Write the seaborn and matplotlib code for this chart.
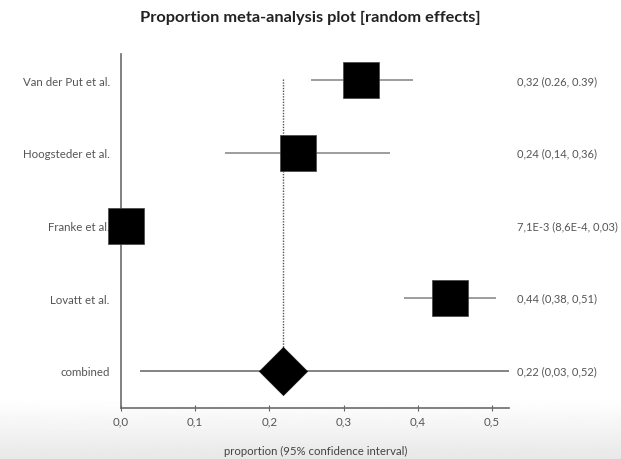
import matplotlib
matplotlib.use("Agg")
import matplotlib.pyplot as plt
import matplotlib.transforms as mtransforms
import numpy as np
import pandas as pd
import seaborn as sns

# ---- data ----
studies = ["Van der Put et al.", "Hoogsteder et al.", "Franke et al.", "Lovatt et al."]
estimates = [0.323, 0.238, 0.007, 0.443]
ci_low = [0.256, 0.140, 0.001, 0.381]
ci_high = [0.394, 0.363, 0.030, 0.505]
value_labels = ["0,32 (0.26, 0.39)", "0,24 (0,14, 0,36)",
                "7,1E-3 (8,6E-4, 0,03)", "0,44 (0,38, 0,51)"]

combined_name = ["combined"]
combined_est = [0.218]
combined_low = [0.026]
combined_high = [0.523]
combined_label = ["0,22 (0,03, 0,52)"]

xticks = [0.0, 0.1, 0.2, 0.3, 0.4, 0.5]
xtick_labels = ["0,0", "0,1", "0,2", "0,3", "0,4", "0,5"]

title = "Proportion meta-analysis plot [random effects]"
xlabel = "proportion (95% confidence interval)"

# ---- build frames ----
df = pd.DataFrame({"study": studies, "est": estimates, "lo": ci_low, "hi": ci_high})
dfc = pd.DataFrame({"study": combined_name, "est": combined_est,
                    "lo": combined_low, "hi": combined_high})
order = studies + combined_name

sns.set_theme(style="white")
plt.rcParams["font.family"] = ["Lato", "DejaVu Sans"]

fig = plt.figure(figsize=(6.21, 4.6), dpi=100)

# light grey gradient band at the bottom (screenshot background)
bg = fig.add_axes([0, 0, 1, 0.13], zorder=-10)
grad = np.linspace(0.91, 1.0, 64).reshape(-1, 1)
bg.imshow(grad, aspect="auto", cmap="gray", vmin=0, vmax=1, origin="lower",
          extent=[0, 1, 0, 1])
bg.set_axis_off()

ax = fig.add_axes([0.1948, 0.1109, 0.6248, 0.7691])
ax.patch.set_alpha(0)

pos = {name: i for i, name in enumerate(order)}
grey = "#8c8c8c"

# confidence interval lines
ax.hlines([pos[s] for s in df["study"]], df["lo"], df["hi"], color=grey, lw=1.2, zorder=2)
ax.hlines([pos[s] for s in dfc["study"]], dfc["lo"], dfc["hi"], color="#6e6e6e", lw=1.2, zorder=2)

# dotted line at combined estimate
ax.vlines(combined_est, -0.02, pos["combined"] - 0.3, color="#555555", lw=1.0,
          linestyles=(0, (1, 1)), zorder=1)

# study squares
sns.scatterplot(data=df, x="est", y=[pos[s] for s in df["study"]], marker="s", s=700,
                color="black", edgecolor="#444444", linewidth=0.5, ax=ax,
                zorder=4, clip_on=False, legend=False)
# combined diamond
sns.scatterplot(data=dfc, x="est", y=[pos[s] for s in dfc["study"]], marker="D", s=610,
                color="black", edgecolor="black", linewidth=0.3, ax=ax,
                zorder=4, clip_on=False, legend=False)

ax.set_xlim(0, 0.523)
ax.set_ylim(4.51, -0.36)

ax.set_yticks(range(len(order)))
ax.set_yticklabels(order)
ax.tick_params(axis="y", length=0, pad=8, labelsize=8.3, labelcolor="#555555")
ax.set_xticks(xticks)
ax.set_xticklabels(xtick_labels)
ax.tick_params(axis="x", direction="inout", length=5, width=0.8, color="#666666",
               pad=3, labelsize=8.3, labelcolor="#555555", bottom=True)

for side in ["top", "right"]:
    ax.spines[side].set_visible(False)
for side in ["left", "bottom"]:
    ax.spines[side].set_color("#6b6b6b")
    ax.spines[side].set_linewidth(1.2)

ax.set_xlabel(xlabel, fontsize=8.2, color="#444444")
ax.xaxis.set_label_coords(0.5026, -0.104)
ax.set_ylabel("")

# value labels on the right
trans = mtransforms.blended_transform_factory(ax.transAxes, ax.transData)
for name, lab in zip(studies + combined_name, value_labels + combined_label):
    ax.text(1.0195, pos[name], lab, transform=trans, ha="left", va="center",
            fontsize=8.0, color="#555555", clip_on=False)

fig.text(0.5, 0.96, title, ha="center", va="center", fontsize=11.8,
         fontweight="bold", color="#222222")

fig.savefig("out.png", dpi=100)
